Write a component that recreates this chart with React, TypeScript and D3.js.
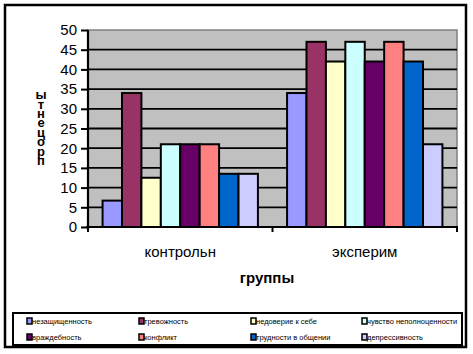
import React, { useEffect, useRef } from 'react';
import * as d3 from 'd3';

const groups = ['контрольн', 'эксперим'];
const seriesNames = [
  'незащищенность',
  'тревожность',
  'недоверие к себе',
  'чувство неполноценности',
  'враждебность',
  'конфликт',
  'трудности в общении',
  'депрессивность',
];
const seriesColors = ['#9999FF', '#993366', '#FFFFCC', '#CCFFFF', '#660066', '#FF8080', '#0066CC', '#CCCCFF'];
// values per series: [контрольн, эксперим]
const controlValues = [6.7, 34, 12.5, 21, 21, 21, 13.5, 13.5];
const experimValues = [34, 47, 42, 47, 42, 47, 42, 21];
const yTicks = [0, 5, 10, 15, 20, 25, 30, 35, 40, 45, 50];
const yTitle = 'проценты';
const xTitle = 'группы';

const FONT = '"Liberation Sans", Arial, sans-serif';

const App = () => {
  const svgRef = useRef<SVGSVGElement>(null);

  useEffect(() => {
    const width = 473;
    const height = 354;
    const plot = { left: 88, right: 457, top: 30, bottom: 227 };

    const svg = d3.select(svgRef.current);
    svg.selectAll('*').remove();
    svg.attr('width', width).attr('height', height);

    svg.append('rect').attr('width', width).attr('height', height).attr('fill', '#fff');

    // outer frame
    svg.append('rect')
      .attr('x', 5).attr('y', 5).attr('width', 461).attr('height', 342)
      .attr('fill', 'none').attr('stroke', '#000').attr('stroke-width', 2.5);

    const x0 = d3.scaleBand<string>()
      .domain(groups)
      .range([plot.left, plot.right])
      .paddingInner(0.158)
      .paddingOuter(0.079);
    const x1 = d3.scaleBand<number>()
      .domain(d3.range(seriesNames.length))
      .range([0, x0.bandwidth()]);
    const y = d3.scaleLinear().domain([0, 50]).range([plot.bottom, plot.top]);

    // plot area
    svg.append('rect')
      .attr('x', plot.left).attr('y', plot.top)
      .attr('width', plot.right - plot.left).attr('height', plot.bottom - plot.top)
      .attr('fill', '#C0C0C0').attr('stroke', '#808080').attr('stroke-width', 1.5);

    svg.append('g')
      .selectAll('line')
      .data(yTicks.filter(t => t > 0 && t < 50))
      .enter()
      .append('line')
      .attr('x1', plot.left).attr('x2', plot.right)
      .attr('y1', d => y(d)).attr('y2', d => y(d))
      .attr('stroke', '#000').attr('stroke-width', 1.8);

    const data = [controlValues, experimValues];
    const gBars = svg.append('g')
      .selectAll('g')
      .data(groups)
      .enter()
      .append('g')
      .attr('transform', d => `translate(${x0(d)},0)`);

    gBars.selectAll('rect')
      .data((d, gi) => data[gi].map((v, i) => ({ v, i })))
      .enter()
      .append('rect')
      .attr('x', d => x1(d.i)!)
      .attr('width', x1.bandwidth())
      .attr('y', d => y(d.v))
      .attr('height', d => y(0) - y(d.v))
      .attr('fill', d => seriesColors[d.i])
      .attr('stroke', '#000')
      .attr('stroke-width', 2);

    // y axis
    const yAxis = svg.append('g')
      .attr('transform', `translate(${plot.left},0)`)
      .call(d3.axisLeft(y).tickValues(yTicks).tickSize(7).tickPadding(4));
    yAxis.select('.domain').attr('stroke', '#000').attr('stroke-width', 2.2)
      .attr('d', `M0,${plot.top}V${plot.bottom + 3}`);
    yAxis.selectAll('.tick line').attr('stroke', '#000').attr('stroke-width', 2);
    yAxis.selectAll('.tick text')
      .attr('font-family', FONT).attr('font-size', 15).attr('fill', '#000');
    yAxis.attr('font-family', null).attr('font-size', null);

    // x axis
    const xAxis = svg.append('g').attr('transform', `translate(0,${plot.bottom})`);
    xAxis.append('line')
      .attr('x1', plot.left - 2).attr('x2', plot.right + 1)
      .attr('stroke', '#000').attr('stroke-width', 2.2);
    xAxis.selectAll('.xt')
      .data([plot.left, (x0(groups[1])! + x0(groups[0])! + x0.bandwidth()) / 2, plot.right])
      .enter()
      .append('line')
      .attr('x1', d => d).attr('x2', d => d)
      .attr('y1', 0).attr('y2', 5)
      .attr('stroke', '#000').attr('stroke-width', 2);
    xAxis.selectAll('text')
      .data(groups)
      .enter()
      .append('text')
      .attr('x', d => x0(d)! + x0.bandwidth() / 2)
      .attr('y', 30)
      .attr('text-anchor', 'middle')
      .attr('font-family', FONT).attr('font-size', 15)
      .text(d => d);

    svg.append('text')
      .attr('x', 267).attr('y', 283)
      .attr('text-anchor', 'middle')
      .attr('font-family', FONT).attr('font-size', 15).attr('font-weight', 'bold')
      .text(xTitle);

    // y title: letters stacked (Excel-style), read bottom to top
    const yt = svg.append('text')
      .attr('font-family', FONT).attr('font-size', 13).attr('font-weight', 'bold')
      .attr('text-anchor', 'middle');
    yt.selectAll('tspan')
      .data(Array.from(yTitle))
      .enter()
      .append('tspan')
      .attr('x', 41)
      .attr('y', (d, i) => 165 - i * 9.4)
      .text(d => d);

    // legend
    svg.append('rect')
      .attr('x', 13).attr('y', 313).attr('width', 449).attr('height', 32)
      .attr('fill', '#fff').attr('stroke', '#000').attr('stroke-width', 2);
    const colX = [27, 139, 251, 362];
    const rowY = [321, 337];
    const leg = svg.append('g')
      .selectAll('g')
      .data(seriesNames)
      .enter()
      .append('g')
      .attr('transform', (d, i) => `translate(${colX[i % 4]},${rowY[Math.floor(i / 4)]})`);
    leg.append('rect')
      .attr('x', 0).attr('y', -3).attr('width', 5).attr('height', 6)
      .attr('fill', (d, i) => seriesColors[i])
      .attr('stroke', '#000').attr('stroke-width', 1.5);
    leg.append('text')
      .attr('x', 5)
      .attr('y', 2.5)
      .attr('font-family', FONT).attr('font-size', 7.5)
      .text(d => d);
  }, []);

  return (
    <div style={{ position: 'absolute', left: 0, top: 0 }}>
      <svg ref={svgRef}></svg>
    </div>
  );
};

export default App;
